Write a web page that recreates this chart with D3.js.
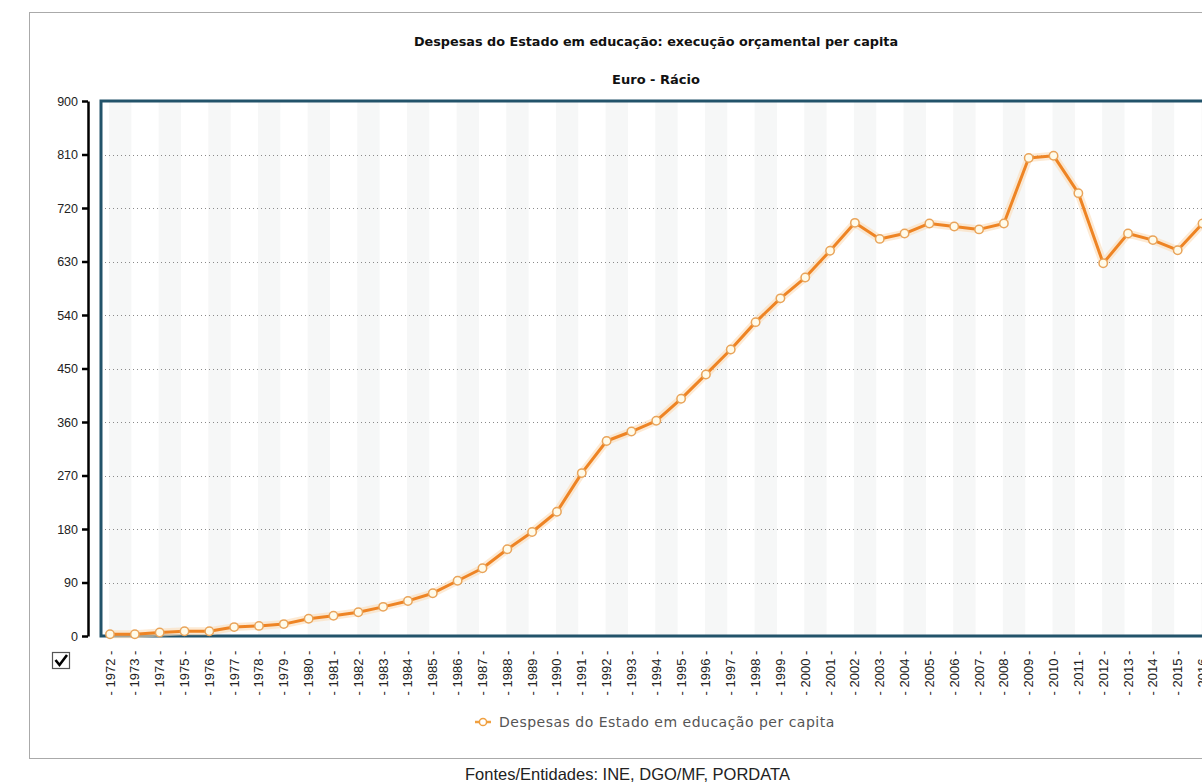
<!DOCTYPE html>
<html>
<head>
<meta charset="utf-8">
<script src="https://cdn.jsdelivr.net/npm/d3@7"></script>
<style>
  body { margin: 0; background: #fff; overflow: hidden; }
  svg { display: block; }
</style>
</head>
<body>
<svg id="chart" width="1202" height="784"></svg>
<script>
// Despesas do Estado em educação per capita (Euro)

var years = [1972, 1973, 1974, 1975, 1976, 1977, 1978, 1979, 1980, 1981,
             1982, 1983, 1984, 1985, 1986, 1987, 1988, 1989, 1990, 1991,
             1992, 1993, 1994, 1995, 1996, 1997, 1998, 1999, 2000, 2001,
             2002, 2003, 2004, 2005, 2006, 2007, 2008, 2009, 2010, 2011,
             2012, 2013, 2014, 2015, 2016];

var values = [3, 3, 6, 8, 8, 15, 17, 20, 29, 34,
              40, 49, 59, 72, 93, 114, 146, 175, 209, 274,
              328, 344, 362, 399, 440, 482, 528, 568, 603, 648,
              695, 668, 677, 694, 689, 684, 694, 804, 808, 745,
              627, 677, 666, 649, 694];

var yTicks = [0, 90, 180, 270, 360, 450, 540, 630, 720, 810, 900];

var title = "Despesas do Estado em educação: execução orçamental per capita";
var subtitle = "Euro - Rácio";
var seriesName = "Despesas do Estado em educação per capita";
var source = "Fontes/Entidades: INE, DGO/MF, PORDATA";

var svg = d3.select("#chart");

var plotLeft = 101, plotTop = 101, plotBottom = 636, plotRight = 1230;

var x = d3.scalePoint()
    .domain(years)
    .range([110, 110 + 44 * 24.83]);

var y = d3.scaleLinear()
    .domain([0, 900])
    .range([plotBottom, plotTop]);

var step = x.step();

// outer box
svg.append("rect")
    .attr("x", 29.5).attr("y", 12.5)
    .attr("width", 1300).attr("height", 746)
    .attr("fill", "#fff")
    .attr("stroke", "#aaa");

// titles
svg.append("text")
    .attr("x", 656).attr("y", 46)
    .attr("text-anchor", "middle")
    .style("font", "bold 12.8px 'DejaVu Sans', Verdana, sans-serif")
    .attr("fill", "#111")
    .text(title);

svg.append("text")
    .attr("x", 656).attr("y", 84)
    .attr("text-anchor", "middle")
    .style("font", "bold 13px 'DejaVu Sans', Verdana, sans-serif")
    .attr("fill", "#111")
    .text(subtitle);

// alternating stripes, very faint
svg.append("g")
    .selectAll("rect")
    .data(years.filter((d, i) => i % 2 == 0))
    .join("rect")
        .attr("x", d => x(d) - 1)
        .attr("y", plotTop)
        .attr("width", step * 0.9)
        .attr("height", plotBottom - plotTop)
        .attr("fill", "#f6f7f7");

// dotted gridlines
svg.append("g")
    .selectAll("line")
    .data(yTicks.filter(d => d > 0 && d < 900))
    .join("line")
        .attr("x1", plotLeft).attr("x2", plotRight)
        .attr("y1", d => Math.round(y(d)) + 0.5)
        .attr("y2", d => Math.round(y(d)) + 0.5)
        .attr("stroke", "#8a8a8a")
        .attr("stroke-dasharray", "1,3");

// plot frame
svg.append("path")
    .attr("d", "M" + plotRight + "," + plotTop + "H" + plotLeft + "V" + plotBottom + "H" + plotRight)
    .attr("fill", "none")
    .attr("stroke", "#22536a")
    .attr("stroke-width", 3);

// y axis
var yAxis = d3.axisLeft(y)
    .tickValues(yTicks)
    .tickSize(6)
    .tickSizeOuter(0)
    .tickPadding(4);

var yg = svg.append("g")
    .attr("transform", "translate(88,0)")
    .call(yAxis);

yg.select(".domain").attr("stroke", "#000").attr("stroke-width", 2.5);
yg.selectAll(".tick line").attr("stroke", "#000").attr("stroke-width", 2.5);
yg.selectAll(".tick text")
    .style("font", "12.5px 'Liberation Sans', Arial, sans-serif")
    .attr("fill", "#222");

// x labels
svg.append("g")
    .selectAll("text")
    .data(years)
    .join("text")
        .attr("transform", d => "translate(" + (x(d) + 4.5) + ",673) rotate(-90)")
        .attr("text-anchor", "middle")
        .style("font", "13px 'Liberation Sans', Arial, sans-serif")
        .attr("fill", "#222")
        .text(d => "-  " + d + "  -");

// checkbox
svg.append("rect")
    .attr("x", 52.5).attr("y", 652.5)
    .attr("width", 17).attr("height", 16)
    .attr("fill", "#fff")
    .attr("stroke", "#555")
    .attr("stroke-width", 1.2);

svg.append("path")
    .attr("d", "M55.5,660 L59.5,665 L67,655")
    .attr("fill", "none")
    .attr("stroke", "#000")
    .attr("stroke-width", 2.6);

// line
var line = d3.line()
    .x((d, i) => x(years[i]))
    .y(d => y(d));

svg.append("path")
    .datum(values)
    .attr("d", line)
    .attr("fill", "none")
    .attr("stroke", "#fbdcb8")
    .attr("stroke-width", 8)
    .attr("stroke-opacity", 0.6)
    .attr("stroke-linejoin", "round");

svg.append("path")
    .datum(values)
    .attr("d", line)
    .attr("fill", "none")
    .attr("stroke", "#ee8424")
    .attr("stroke-width", 3)
    .attr("stroke-linejoin", "round");

svg.append("g")
    .selectAll("circle")
    .data(values)
    .join("circle")
        .attr("cx", (d, i) => x(years[i]))
        .attr("cy", d => y(d))
        .attr("r", 4.2)
        .attr("fill", "#fffbea")
        .attr("stroke", "#e9a45a")
        .attr("stroke-width", 1.5);

// legend
var legend = svg.append("g").attr("transform", "translate(483,722)");

legend.append("line")
    .attr("x1", -8).attr("x2", 8)
    .attr("stroke", "#f0a040")
    .attr("stroke-width", 2.5);

legend.append("circle")
    .attr("r", 3.6)
    .attr("fill", "#fff")
    .attr("stroke", "#f0a040")
    .attr("stroke-width", 1.5);

legend.append("text")
    .attr("x", 16).attr("y", 5)
    .style("font", "14px 'DejaVu Sans', Verdana, sans-serif")
    .style("letter-spacing", "0.5px")
    .attr("fill", "#555")
    .text(seriesName);

// source
svg.append("text")
    .attr("x", 465).attr("y", 780)
    .style("font", "16.5px 'Liberation Sans', Arial, sans-serif")
    .attr("fill", "#222")
    .text(source);
</script>
</body>
</html>
